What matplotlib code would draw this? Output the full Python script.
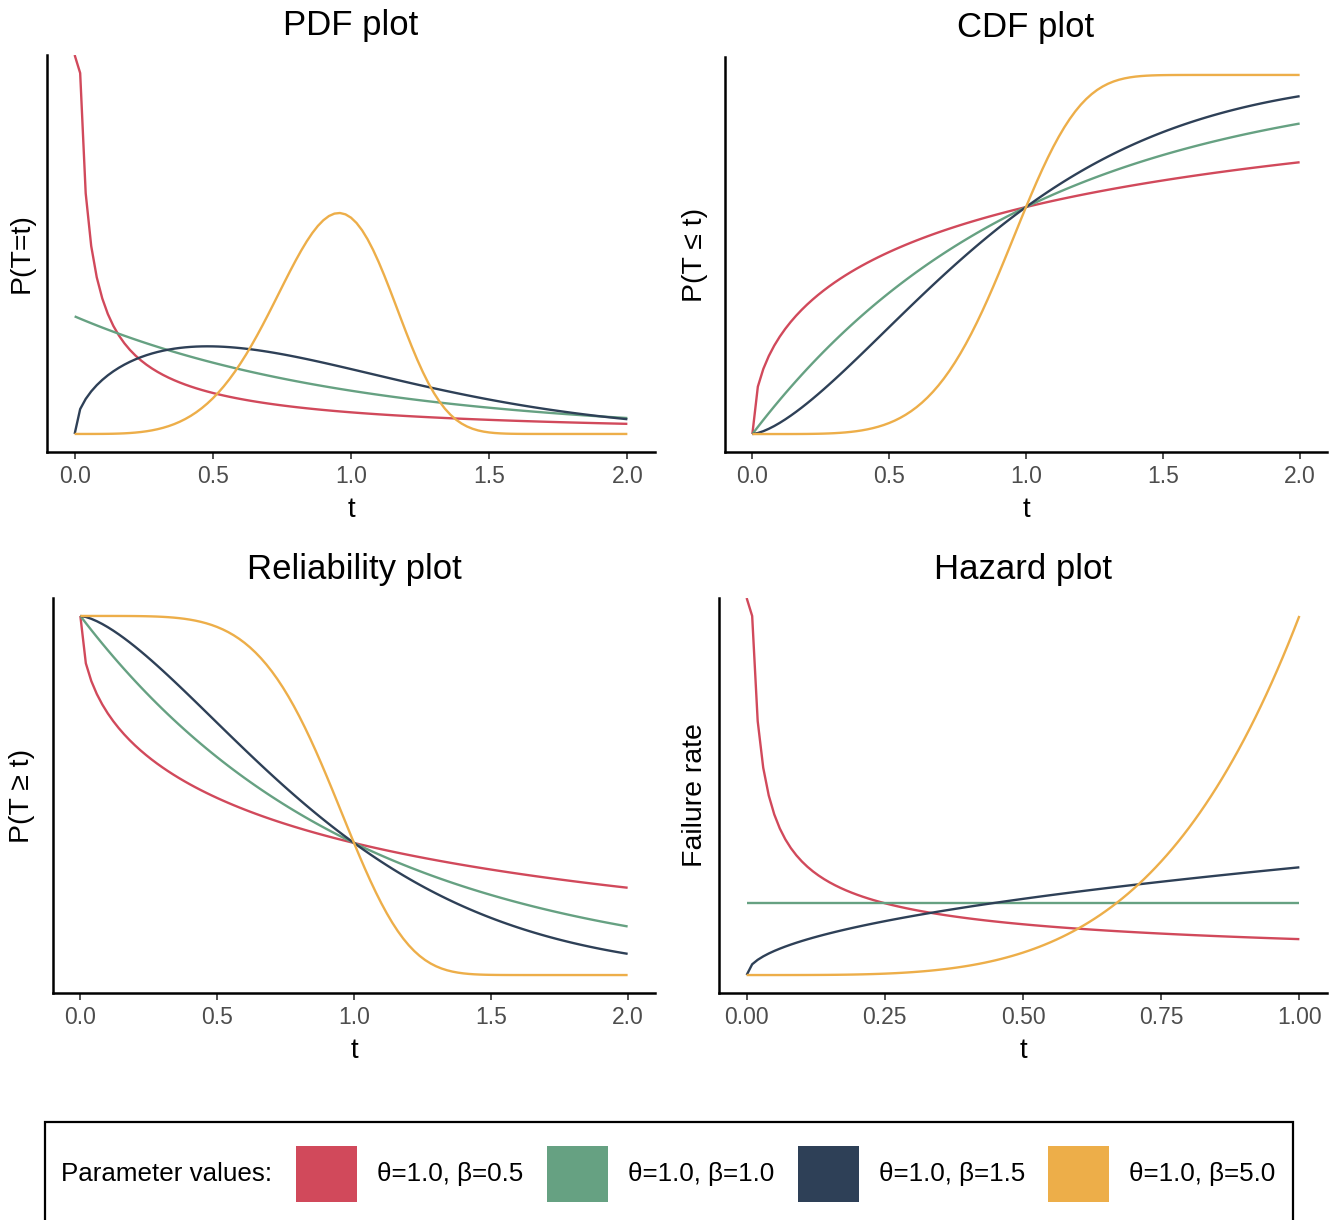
import numpy as np
import matplotlib
matplotlib.use("Agg")
import matplotlib.pyplot as plt
from matplotlib.patches import Rectangle

plt.rcParams['font.family'] = ['Liberation Sans', 'DejaVu Sans']

# Weibull parameters for each curve
theta = [1.0, 1.0, 1.0, 1.0]
beta = [0.5, 1.0, 1.5, 5.0]
colors = ["#D1495B", "#66A182", "#2E4057", "#EDAE49"]

# evaluation grids
t_main = np.linspace(0, 2, 101)
t_haz = np.linspace(0, 1, 101)
main_ticks = [0.0, 0.5, 1.0, 1.5, 2.0]
main_ticklabels = ["0.0", "0.5", "1.0", "1.5", "2.0"]
haz_ticks = [0.0, 0.25, 0.5, 0.75, 1.0]
haz_ticklabels = ["0.00", "0.25", "0.50", "0.75", "1.00"]


def weibull(t, th, b, kind):
    with np.errstate(divide="ignore", invalid="ignore"):
        z = (t / th) ** b
        if kind == "pdf":
            return (b / th) * (t / th) ** (b - 1) * np.exp(-z)
        if kind == "cdf":
            return 1 - np.exp(-z)
        if kind == "rel":
            return np.exp(-z)
        return (b / th) * (t / th) ** (b - 1)


W, H = 1338, 1220
fig = plt.figure(figsize=(W / 100, H / 100), dpi=100)


def add_panel(x0, x1, ytop, ybot, title, ylab, ylab_x, t, kind, ticks, ticklabels):
    ax = fig.add_axes([x0 / W, 1 - ybot / H, (x1 - x0) / W, (ybot - ytop) / H])
    curves = [weibull(t, th, b, kind) for th, b in zip(theta, beta)]
    finite = np.concatenate([c[np.isfinite(c)] for c in curves])
    lo, hi = finite.min(), finite.max()
    pad = 0.05 * (hi - lo)
    ylo, yhi = lo - pad, hi + pad
    for c, col in zip(curves, colors):
        # infinite values sit on the panel edge
        c = np.where(np.isposinf(c), yhi, c)
        ax.plot(t, c, color=col, lw=1.7, solid_capstyle="butt")
    ax.set_ylim(ylo, yhi)
    span = t[-1] - t[0]
    ax.set_xlim(t[0] - 0.05 * span, t[-1] + 0.05 * span)
    ax.set_xticks(ticks)
    ax.set_xticklabels(ticklabels)
    ax.set_yticks([])
    for s in ["top", "right"]:
        ax.spines[s].set_visible(False)
    for s in ["left", "bottom"]:
        ax.spines[s].set_linewidth(1.8)
    ax.tick_params(axis="x", length=5, width=1.2, color="#333333",
                   labelsize=16.5, labelcolor="#4D4D4D", pad=4)
    ax.set_xlabel("t", fontsize=20, labelpad=7)
    fig.text((x0 + x1) / 2 / W, 1 - (ytop - 29) / H, title, fontsize=25,
             ha="center", va="center")
    fig.text(ylab_x / W, 1 - (ytop + ybot) / 2 / H, ylab, fontsize=20.5,
             rotation=90, ha="center", va="center")
    return ax


add_panel(47, 655, 55, 452, "PDF plot", "P(T=t)", 22, t_main, "pdf",
          main_ticks, main_ticklabels)
add_panel(725, 1327, 57, 452, "CDF plot", "P(T \u2264 t)", 695, t_main, "cdf",
          main_ticks, main_ticklabels)
add_panel(53, 655, 598, 993, "Reliability plot", "P(T \u2265 t)", 22, t_main, "rel",
          main_ticks, main_ticklabels)
add_panel(719, 1327, 598, 993, "Hazard plot", "Failure rate", 695, t_haz, "haz",
          haz_ticks, haz_ticklabels)

# legend box along the bottom
fig.patches.append(Rectangle((45 / W, -0.05), (1293 - 45) / W, 0.05 + (H - 1122) / H,
                             transform=fig.transFigure, fill=False, lw=1.6,
                             edgecolor="black"))
ycen = 1 - 1174 / H
fig.text(61 / W, ycen, "Parameter values:", fontsize=18.7, ha="left", va="center")
key_x = [296, 547, 798, 1048]
for kx, col, th, b in zip(key_x, colors, theta, beta):
    fig.patches.append(Rectangle((kx / W, 1 - 1202 / H), 61 / W, 56 / H,
                                 transform=fig.transFigure, facecolor=col,
                                 edgecolor="none"))
    fig.text((kx + 81) / W, ycen, f"\u03b8={th:.1f}, \u03b2={b:.1f}", fontsize=18.7,
             ha="left", va="center")

fig.savefig("out.png", dpi=100)
